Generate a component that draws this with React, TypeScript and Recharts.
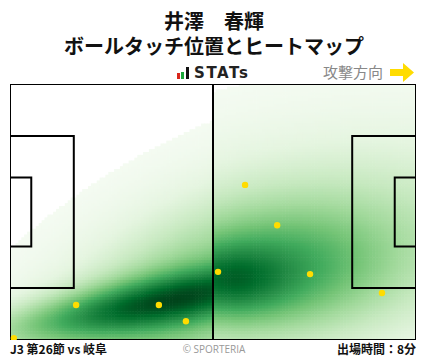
import React from 'react';
import { ScatterChart, Scatter, XAxis, YAxis } from 'recharts';

// ---- data ----
const PITCH_LENGTH = 105;
const PITCH_WIDTH = 68;
// ball touches (metres from left goal line / top touchline)
const touchX = [1.0, 17.1, 38.5, 45.5, 53.8, 60.8, 69.1, 77.6, 96.2];
const touchY = [67.5, 58.7, 58.7, 63.0, 49.9, 26.8, 37.5, 50.5, 55.5];
// heat-map intensity sources (each half drawn separately)
const heatHalf = ['L', 'L', 'R', 'R', 'R'];
const heatX = [36, 50, 55, 66, 75];
const heatY = [58.5, 55, 52.5, 50, 45];
const heatSX = [30, 30, 11, 22, 40];
const heatSY = [7.5, 22, 6.5, 11, 21];
const heatRho = [-0.75, -0.6, 0, -0.1, -0.3];
const heatW = [0.6, 0.5, 0.33, 0.36, 0.37];
const titleName = '井澤　春輝';
const titleSub = 'ボールタッチ位置とヒートマップ';
const matchLabel = 'J3 第26節 vs 岐阜';
const minutesLabel = '出場時間：8分';
const directionLabel = '攻撃方向';

// pitch markings (metres)
const pitchLines: { x: number; y: number }[][] = [
  [{ x: 0, y: 0 }, { x: 105, y: 0 }, { x: 105, y: 68 }, { x: 0, y: 68 }, { x: 0, y: 0 }],
  [{ x: 52.5, y: 0 }, { x: 52.5, y: 68 }],
  [{ x: 0, y: 13.84 }, { x: 16.5, y: 13.84 }, { x: 16.5, y: 54.16 }, { x: 0, y: 54.16 }],
  [{ x: 0, y: 24.84 }, { x: 5.5, y: 24.84 }, { x: 5.5, y: 43.16 }, { x: 0, y: 43.16 }],
  [{ x: 105, y: 13.84 }, { x: 88.5, y: 13.84 }, { x: 88.5, y: 54.16 }, { x: 105, y: 54.16 }],
  [{ x: 105, y: 24.84 }, { x: 99.5, y: 24.84 }, { x: 99.5, y: 43.16 }, { x: 105, y: 43.16 }],
];

// ---- layout ----
const W = 428;
const H = 359;
const M = { top: 84, right: 12, bottom: 19, left: 10 };
const PW = W - M.left - M.right;
const PH = H - M.top - M.bottom;
const NX = 140;
const NY = 90;
const CW = PW / NX;
const CH = PH / NY;

// Greens colormap
const GREENS = ['#f7fcf5', '#e5f5e0', '#c7e9c0', '#a1d99b', '#74c476', '#41ab5d', '#238b45', '#006d2c', '#00441b'];
function hex(c: string) {
  return [parseInt(c.slice(1, 3), 16), parseInt(c.slice(3, 5), 16), parseInt(c.slice(5, 7), 16)];
}
function greens(t: number) {
  const v = Math.max(0, Math.min(1, t)) * (GREENS.length - 1);
  const i = Math.min(GREENS.length - 2, Math.floor(v));
  const f = v - i;
  const a = hex(GREENS[i]);
  const b = hex(GREENS[i + 1]);
  const r = a.map((x, k) => Math.round(x + (b[k] - x) * f));
  return `rgb(${r[0]},${r[1]},${r[2]})`;
}

function intensity(x: number, y: number, half: string) {
  let s = 0;
  for (let k = 0; k < heatX.length; k++) {
    if (heatHalf[k] !== half) continue;
    const u = (x - heatX[k]) / heatSX[k];
    const v = (y - heatY[k]) / heatSY[k];
    const r = heatRho[k];
    s += heatW[k] * Math.exp(-0.5 * (u * u - 2 * r * u * v + v * v) / (1 - r * r));
  }
  return s;
}
const rawCells: { x: number; y: number; d: number }[] = [];
for (let i = 0; i < NX; i++) {
  for (let j = 0; j < NY; j++) {
    const x = ((i + 0.5) * PITCH_LENGTH) / NX;
    const y = ((j + 0.5) * PITCH_WIDTH) / NY;
    rawCells.push({ x, y, d: intensity(x, y, x < PITCH_LENGTH / 2 ? 'L' : 'R') });
  }
}
const dMax = Math.max(...rawCells.map((c) => c.d));
const THRESH = 0.02;
const heatCells = rawCells
  .map((c) => ({ x: c.x, y: c.y, level: c.d / dMax }))
  .filter((c) => c.level >= THRESH);
const touches = touchX.map((x, i) => ({ x, y: touchY[i] }));

const HeatCell = (props: any) => (
  <rect
    x={props.cx - CW / 2 - 0.3}
    y={props.cy - CH / 2 - 0.3}
    width={CW + 0.6}
    height={CH + 0.6}
    fill={greens(props.payload.level)}
  />
);
const TouchDot = (props: any) => <circle cx={props.cx} cy={props.cy} r={3.2} fill="#ffdc00" />;
const NoDot = () => null;

const FONT = '"Noto Sans CJK JP", "Noto Sans", sans-serif';

export default function App() {
  return (
    <div style={{ position: 'absolute', left: 0, top: 0, width: W, height: H, background: '#fff', fontFamily: FONT }}>
      <ScatterChart width={W} height={H} margin={M}>
        <XAxis type="number" dataKey="x" domain={[0, PITCH_LENGTH]} hide allowDataOverflow />
        <YAxis type="number" dataKey="y" domain={[0, PITCH_WIDTH]} reversed hide allowDataOverflow />
        <Scatter data={heatCells} shape={HeatCell} isAnimationActive={false} />
        {pitchLines.map((pts, k) => (
          <Scatter
            key={k}
            data={pts}
            line={{ stroke: '#000', strokeWidth: 2 }}
            lineType="joint"
            shape={NoDot}
            isAnimationActive={false}
          />
        ))}
        <Scatter data={touches} shape={TouchDot} isAnimationActive={false} />
      </ScatterChart>
      <div style={{ position: 'absolute', left: 0, width: W, top: 10, textAlign: 'center', fontSize: 20, fontWeight: 700, lineHeight: '21px', color: '#111' }}>{titleName}</div>
      <div style={{ position: 'absolute', left: 0, width: W, top: 35, textAlign: 'center', fontSize: 20, fontWeight: 700, lineHeight: '21px', color: '#111' }}>{titleSub}</div>
      <div style={{ position: 'absolute', left: 176, top: 63, height: 20, display: 'flex', alignItems: 'flex-end' }}>
        <svg width={14} height={13} style={{ marginBottom: 3 }}>
          <rect x={1} y={6} width={3} height={6} fill="#d9261c" />
          <rect x={5} y={5} width={3} height={7} fill="#1aa83a" />
          <rect x={10} y={0} width={3} height={12} fill="#111" />
        </svg>
        <span style={{ marginLeft: 4, fontFamily: '"DejaVu Sans", sans-serif', fontWeight: 700, fontSize: 15, lineHeight: '20px', letterSpacing: 1.6, color: '#222' }}>STATs</span>
      </div>
      <div style={{ position: 'absolute', left: 323, top: 61, fontSize: 15, lineHeight: '22px', color: '#888' }}>{directionLabel}</div>
      <svg style={{ position: 'absolute', left: 390, top: 63 }} width={25} height={19}>
        <polygon points="0,6 13,6 13,0 24,9.5 13,19 13,13 0,13" fill="#ffdc00" />
      </svg>
      <div style={{ position: 'absolute', left: 10, top: 341, fontSize: 12, fontWeight: 700, lineHeight: '16px', color: '#111' }}>{matchLabel}</div>
      <div style={{ position: 'absolute', left: 0, width: W, top: 342, textAlign: 'center', fontSize: 10, lineHeight: '14px', color: '#999', fontFamily: '"Open Sans", sans-serif' }}>© SPORTERIA</div>
      <div style={{ position: 'absolute', right: 12, top: 341, fontSize: 12, fontWeight: 700, lineHeight: '16px', color: '#111' }}>{minutesLabel}</div>
    </div>
  );
}
